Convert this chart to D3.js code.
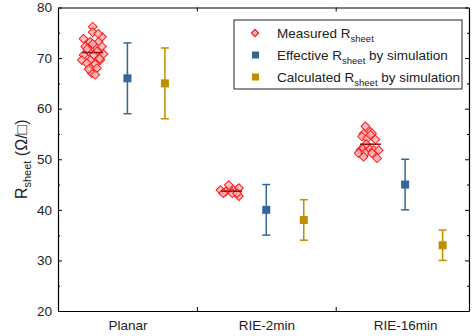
<!DOCTYPE html>
<html>
<head>
<meta charset="utf-8">
<script src="https://cdnjs.cloudflare.com/ajax/libs/d3/7.8.5/d3.min.js"></script>
<style>
  html, body { margin: 0; padding: 0; background: #fff; }
  svg { display: block; font-family: "Liberation Sans", Arial, sans-serif; }
</style>
</head>
<body>
<div id="chart"></div>
<script>
// categories on the x axis
const categories = ['Planar', 'RIE-2min', 'RIE-16min'];

// measured sheet resistance, one array per sample (ohm/sq)
const planarMeasured = [76.2, 75.1, 73.8, 74.2, 73.2, 73.2, 72.3, 72.3, 72.3, 71.3, 71.3, 70.6, 70.6, 70.8,
  69.6, 69.6, 69.6, 69.0, 68.8, 68.0, 68.0, 67.0, 66.7, 74.8, 71.8, 72.8, 67.8, 69.9];
const planarJitter = [0, 0, -0.066, 0.066, -0.018, 0.042, -0.054, 0.018, 0.066, -0.03, 0.03, -0.066, 0.006, 0.078,
  -0.078, -0.018, 0.054, -0.042, 0.018, -0.018, 0.03, -0.006, 0.018, 0.04, -0.04, 0, -0.03, 0.05];

const rie2Measured = [43.9, 44.9, 43.6, 43.9, 44.3, 42.7, 43.3, 43.3, 43.3];
const rie2Jitter = [-0.08, -0.02, -0.043, 0.017, 0.053, 0.053, 0.005, -0.06, 0.04];

const rie16Measured = [56.5, 55.4, 55.1, 55.1, 54.5, 54.1, 53.9, 51.8, 52.2, 52.2, 51.8, 51.8, 51.2, 51.2, 51.2,
  50.2, 50.5, 54.8, 53.0];
const rie16Jitter = [-0.036, 0, -0.049, 0.012, -0.06, -0.024, 0.036, -0.072, -0.049, -0.013, 0.023, 0.059, -0.085,
  -0.036, 0.012, 0.048, -0.049, 0, -0.03];

// simulation results: value and error bar limits
const effectiveValue = [66, 40, 45];
const effectiveLow = [59, 35, 40];
const effectiveHigh = [73, 45, 50];

const calculatedValue = [65, 38, 33];
const calculatedLow = [58, 34, 30];
const calculatedHigh = [72, 42, 36];

const yTicks = [20, 30, 40, 50, 60, 70, 80];
const yMinorTicks = [25, 35, 45, 55, 65, 75];

const width = 472;
const height = 336;
const margin = { top: 7.5, right: 3, bottom: 25, left: 58 };

const colors = {
  measuredFill: '#ffb3b3',
  measuredStroke: '#ff1a1a',
  meanLine: '#8b1010',
  effective: '#336699',
  calculated: '#bf8f00',
};

const svg = d3.select('#chart')
  .append('svg')
  .attr('width', width)
  .attr('height', height);

const x = d3.scaleLinear()
  .domain([0.5, 3.46])
  .range([margin.left, width - margin.right]);

const y = d3.scaleLinear()
  .domain([20, 80])
  .range([height - margin.bottom, margin.top]);

const catPos = categories.map((_, i) => i + 1);

// axes ----------------------------------------------------------
const axisG = svg.append('g').attr('class', 'axes');

const styleAxis = g => {
  g.selectAll('.domain').attr('stroke', '#000').attr('stroke-width', 1.2);
  g.selectAll('.tick line').attr('stroke', '#000').attr('stroke-width', 1);
  g.selectAll('text').attr('fill', '#222').style('font-size', '13.5px');
};

axisG.append('g')
  .attr('transform', `translate(${margin.left},0)`)
  .call(d3.axisLeft(y).tickValues(yTicks).tickSizeInner(-4).tickSizeOuter(0).tickPadding(6))
  .call(styleAxis);

axisG.append('g')
  .attr('transform', `translate(${margin.left},0)`)
  .call(d3.axisLeft(y).tickValues(yMinorTicks).tickSizeInner(-2).tickSizeOuter(0).tickFormat(''))
  .call(g => g.select('.domain').remove())
  .call(styleAxis);

axisG.append('g')
  .attr('transform', `translate(${width - margin.right},0)`)
  .call(d3.axisRight(y).tickValues(yTicks).tickSizeInner(-4).tickSizeOuter(0).tickFormat(''))
  .call(styleAxis);

axisG.append('g')
  .attr('transform', `translate(${width - margin.right},0)`)
  .call(d3.axisRight(y).tickValues(yMinorTicks).tickSizeInner(-2).tickSizeOuter(0).tickFormat(''))
  .call(g => g.select('.domain').remove())
  .call(styleAxis);

axisG.append('g')
  .attr('transform', `translate(0,${height - margin.bottom})`)
  .call(d3.axisBottom(x).tickValues([1.5, 2.5]).tickSizeInner(-4).tickSizeOuter(0).tickFormat(''))
  .call(styleAxis);

axisG.append('g')
  .attr('transform', `translate(0,${height - margin.bottom})`)
  .call(d3.axisBottom(x).tickValues(catPos).tickSize(0).tickPadding(9)
    .tickFormat((d, i) => categories[i]))
  .call(g => g.select('.domain').remove())
  .call(styleAxis);

axisG.append('g')
  .attr('transform', `translate(0,${margin.top})`)
  .call(d3.axisTop(x).tickValues([1.5, 2.5]).tickSizeInner(-4).tickSizeOuter(0).tickFormat(''))
  .call(styleAxis);

// y axis title
const yTitle = svg.append('text')
  .attr('transform', `translate(27,${(margin.top + height - margin.bottom) / 2}) rotate(-90)`)
  .attr('text-anchor', 'middle')
  .attr('fill', '#222')
  .style('font-size', '16px');
yTitle.append('tspan').text('R');
yTitle.append('tspan').attr('dy', 4).style('font-size', '11px').text('sheet');
yTitle.append('tspan').attr('dy', -4).text(' (\u03A9/\u25A1)');

// measured points -----------------------------------------------
const diamond = d3.symbol().type(d3.symbolDiamond2).size(50);
const measured = [
  { values: planarMeasured, jitter: planarJitter },
  { values: rie2Measured, jitter: rie2Jitter },
  { values: rie16Measured, jitter: rie16Jitter },
];

measured.forEach((set, i) => {
  const cx = catPos[i] - 0.25;
  const pts = set.values.map((v, j) => ({ x: cx + set.jitter[j], y: v }));
  const g = svg.append('g');
  g.selectAll('path')
    .data(pts)
    .join('path')
    .attr('d', d3.symbol().type(d3.symbolSquare).size(38))
    .attr('transform', d => `translate(${x(d.x)},${y(d.y)}) rotate(45)`)
    .attr('fill', colors.measuredFill)
    .attr('fill-opacity', 0.85)
    .attr('stroke', colors.measuredStroke)
    .attr('stroke-width', 1);
  const mean = d3.mean(set.values);
  g.append('line')
    .attr('x1', x(cx - 0.075))
    .attr('x2', x(cx + 0.075))
    .attr('y1', y(mean))
    .attr('y2', y(mean))
    .attr('stroke', colors.meanLine)
    .attr('stroke-width', 1.5);
});

// simulation points with error bars ------------------------------
const drawSeries = (values, lows, highs, offset, color) => {
  const data = values.map((v, i) => ({ x: catPos[i] + offset, v, lo: lows[i], hi: highs[i] }));
  const g = svg.append('g');
  g.selectAll('line.bar')
    .data(data)
    .join('line')
    .attr('class', 'bar')
    .attr('x1', d => x(d.x)).attr('x2', d => x(d.x))
    .attr('y1', d => y(d.lo)).attr('y2', d => y(d.hi))
    .attr('stroke', color).attr('stroke-width', 1.5);
  ['lo', 'hi'].forEach(k => {
    g.selectAll(`line.cap-${k}`)
      .data(data)
      .join('line')
      .attr('class', `cap-${k}`)
      .attr('x1', d => x(d.x) - 4).attr('x2', d => x(d.x) + 4)
      .attr('y1', d => y(d[k])).attr('y2', d => y(d[k]))
      .attr('stroke', color).attr('stroke-width', 1.5);
  });
  g.selectAll('rect')
    .data(data)
    .join('rect')
    .attr('x', d => x(d.x) - 4)
    .attr('y', d => y(d.v) - 4)
    .attr('width', 8)
    .attr('height', 8)
    .attr('fill', color);
};

drawSeries(effectiveValue, effectiveLow, effectiveHigh, 0, colors.effective);
drawSeries(calculatedValue, calculatedLow, calculatedHigh, 0.27, colors.calculated);

// legend ---------------------------------------------------------
const legend = svg.append('g').attr('transform', 'translate(234,20)');
legend.append('rect')
  .attr('width', 228).attr('height', 69)
  .attr('fill', '#fff').attr('stroke', '#222').attr('stroke-width', 1);

const legendItems = [
  { label: 'Measured R', tail: '', kind: 'diamond' },
  { label: 'Effective R', tail: ' by simulation', kind: 'effective' },
  { label: 'Calculated R', tail: ' by simulation', kind: 'calculated' },
];

legendItems.forEach((item, i) => {
  const row = legend.append('g').attr('transform', `translate(0,${13 + i * 22})`);
  if (item.kind === 'diamond') {
    row.append('path')
      .attr('d', d3.symbol().type(d3.symbolSquare).size(26))
      .attr('transform', 'translate(21,0) rotate(45)')
      .attr('fill', colors.measuredFill)
      .attr('stroke', colors.measuredStroke)
      .attr('stroke-width', 1.2);
  } else {
    row.append('rect')
      .attr('x', 18).attr('y', -3.5).attr('width', 7).attr('height', 7)
      .attr('fill', colors[item.kind]);
  }
  const t = row.append('text')
    .attr('x', 43).attr('y', 4.5)
    .attr('fill', '#222')
    .style('font-size', '13.5px');
  t.append('tspan').text(item.label);
  t.append('tspan').attr('dy', 4).style('font-size', '9.5px').text('sheet');
  if (item.tail) t.append('tspan').attr('dy', -4).text(item.tail);
});
</script>
</body>
</html>
